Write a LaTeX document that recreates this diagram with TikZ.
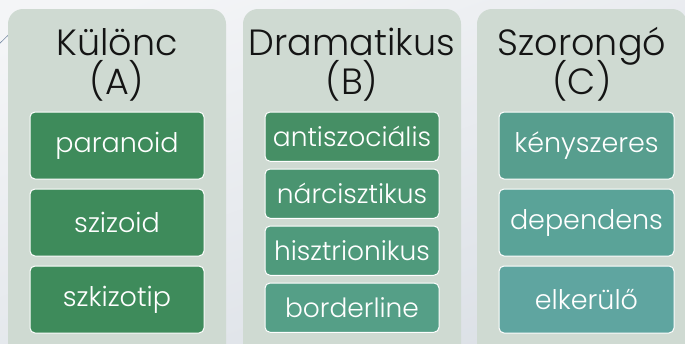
\documentclass[tikz,border=0pt]{standalone}
\usepackage{fontspec}
\IfFontExistsTF{Poppins Light}{\setmainfont{Poppins Light}}{\setmainfont{Poppins}}
\usepackage{tikz}
\usetikzlibrary{positioning}
\definecolor{slidetop}{RGB}{244,245,247}
\definecolor{slidebot}{RGB}{219,224,230}
\definecolor{slideline}{RGB}{120,140,165}
\definecolor{colfill}{RGB}{207,218,210}
\definecolor{headtext}{RGB}{20,20,20}
\definecolor{greenA}{RGB}{62,139,91}
\definecolor{greenB1}{RGB}{70,143,101}
\definecolor{greenB2}{RGB}{74,148,112}
\definecolor{greenB3}{RGB}{79,154,124}
\definecolor{greenB4}{RGB}{85,159,135}
\definecolor{greenC1}{RGB}{87,158,142}
\definecolor{greenC2}{RGB}{90,163,152}
\definecolor{greenC3}{RGB}{95,165,160}
\newcommand{\headfont}{\fontsize{36.5}{39}\selectfont\lineskiplimit=-100pt\relax}
\tikzstyle{column} = [rectangle, rounded corners=15pt, fill=colfill, inner sep=0pt, outer sep=0pt, minimum height=360pt]
\tikzstyle{header} = [align=center, inner sep=0pt, outer sep=0pt, text=headtext, font=\headfont]
\tikzstyle{bigbox} = [rectangle, rounded corners=5pt, draw=white, line width=1pt, text=white, text centered, minimum width=174pt, minimum height=67pt, inner sep=0pt, outer sep=0pt, font=\fontsize{27}{30}\selectfont]
\tikzstyle{smallbox} = [bigbox, minimum height=49.25pt, font=\fontsize{26.5}{28}\selectfont]

\begin{document}
\begin{tikzpicture}[x=1pt, y=-1pt]
\useasboundingbox (0,0) rectangle (685,343);
\clip (0,0) rectangle (685,343);
\shade[top color=slidetop, bottom color=slidebot, shading angle=20] (-20,-20) rectangle (705,363);
\draw[slideline, line width=0.6pt] (-4,47) -- (30,14);
% columns
\node (colA) [column, minimum width=218pt, anchor=north] at (117,9) {};
\node (colB) [column, minimum width=218pt, anchor=north] at (352,9) {};
\node (colC) [column, minimum width=210pt, anchor=north] at (582,9) {};
% headers
\node (headA) [header, below=85pt of colA.north, anchor=base] {Különc\\(A)};
\node (headB) [header, below=85pt of colB.north, anchor=base] {Dramatikus\\(B)};
\node (headC) [header, below=85pt of colC.north, anchor=base] {Szorongó\\(C)};
% A
\node (paranoid) [bigbox, fill=greenA, below=103pt of colA.north] {paranoid};
\node (szizoid) [bigbox, fill=greenA, below=10pt of paranoid] {szizoid};
\node (szkizotip) [bigbox, fill=greenA, below=10pt of szizoid] {szkizotip};
% B
\node (antiszoc) [smallbox, fill=greenB1, below=103pt of colB.north] {antiszociális};
\node (narcis) [smallbox, fill=greenB2, below=7.75pt of antiszoc] {nárcisztikus};
\node (hisztrion) [smallbox, fill=greenB3, below=7.75pt of narcis] {hisztrionikus};
\node (borderline) [smallbox, fill=greenB4, below=7.75pt of hisztrion] {borderline};
% C
\node (kenyszeres) [bigbox, fill=greenC1, minimum width=175pt, below=103pt of colC.north, xshift=4.5pt] {kényszeres};
\node (dependens) [bigbox, fill=greenC2, minimum width=175pt, below=10pt of kenyszeres] {dependens};
\node (elkerulo) [bigbox, fill=greenC3, minimum width=175pt, below=10pt of dependens] {elkerülő};
\end{tikzpicture}
\end{document}
